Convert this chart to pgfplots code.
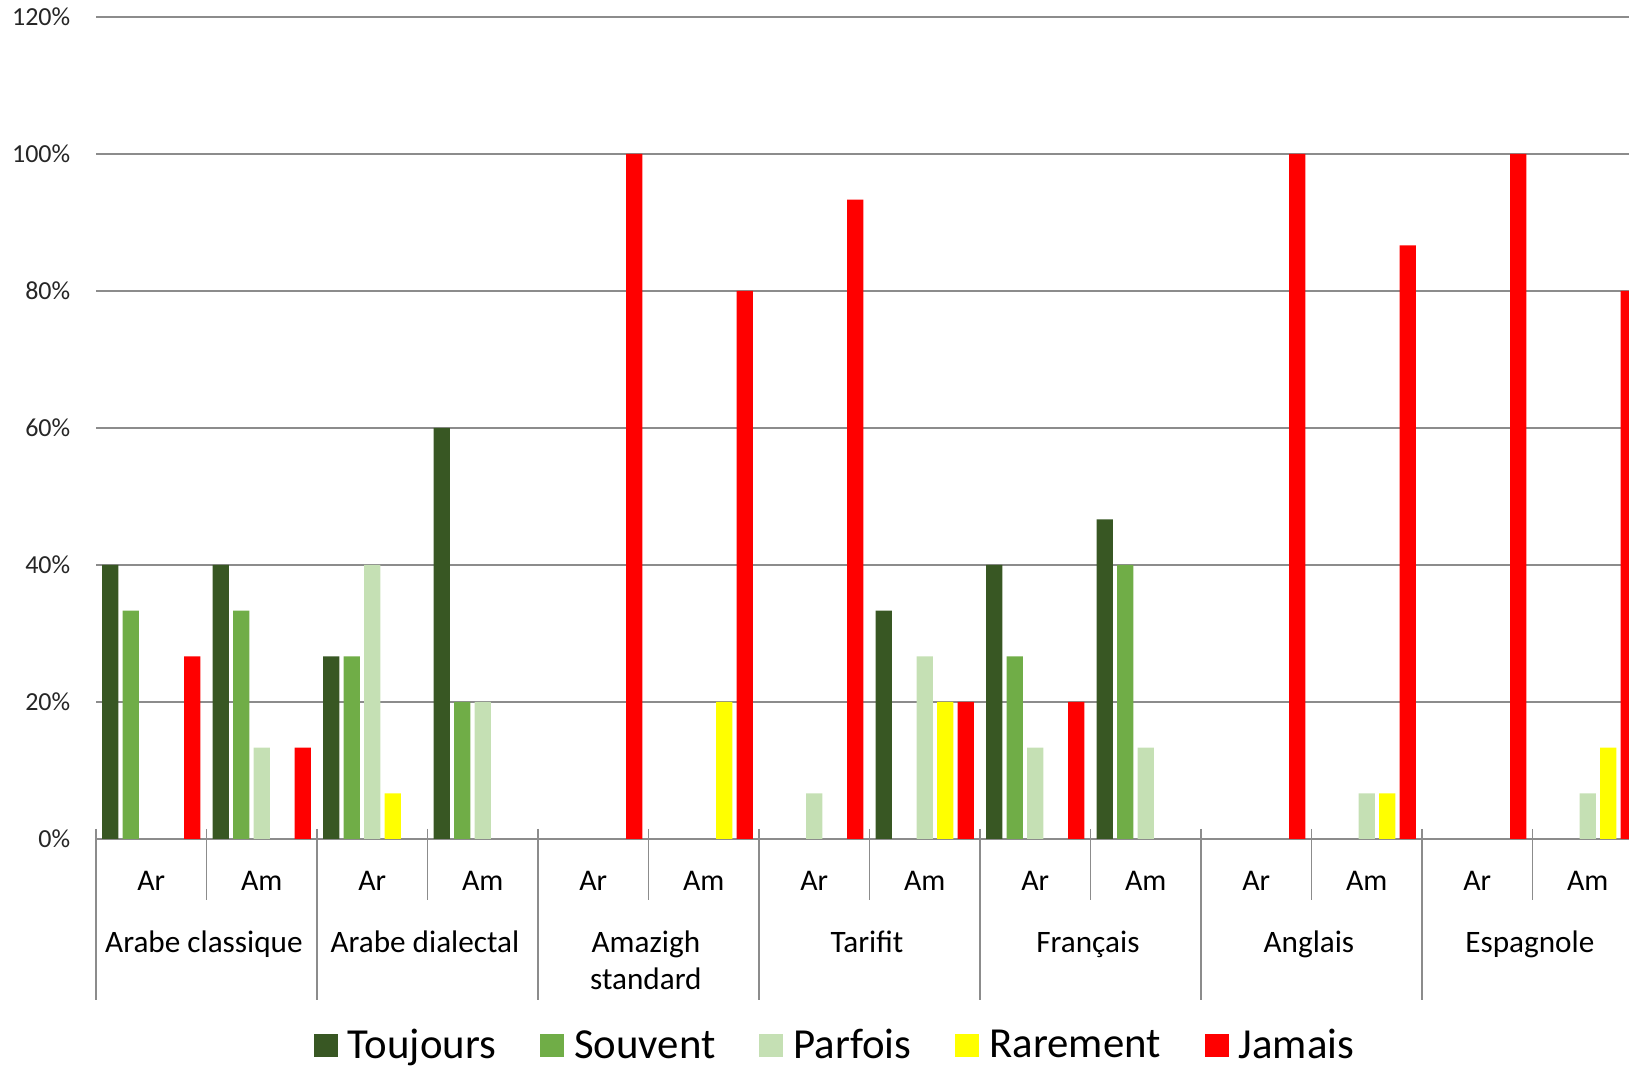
\documentclass[border=0pt]{standalone}
\usepackage{pgfplots}
\pgfplotsset{compat=1.18}
\usepackage{fontspec}
\setmainfont{Carlito}
\definecolor{cT}{RGB}{56,87,35}
\definecolor{cS}{RGB}{112,173,71}
\definecolor{cP}{RGB}{197,224,180}
\definecolor{cR}{RGB}{255,255,0}
\definecolor{cJ}{RGB}{255,0,0}
\definecolor{gridg}{RGB}{140,140,140}
\begin{document}
\begin{tikzpicture}
\begin{axis}[
  name=ax, at={(48pt,114.5pt)}, anchor=south west,
  scale only axis, width=773.5pt, height=411pt,
  xmin=-0.5, xmax=13.5, ymin=0, ymax=120,
  ybar=2.1pt, bar width=8.15pt,
  axis line style={draw=none},
  xtick=\empty,
  ytick={0,20,40,60,80,100,120},
  yticklabels={0\%,20\%,40\%,60\%,80\%,100\%,120\%},
  ytick style={draw=none},
  yticklabel style={anchor=east, inner sep=0pt, xshift=-12.7pt, font=\fontsize{13}{15}\selectfont, text=black!85},
  ymajorgrids, major grid style={gridg, line width=0.65pt},
  clip=false,
  legend columns=5,
  legend style={draw=none, at={(0.4783,-0.2515)}, anchor=center,
    font=\fontsize{21.4}{25}\selectfont,
    /tikz/every odd column/.append style={column sep=3pt},
    /tikz/every even column/.append style={column sep=20pt}},
  legend image code/.code={\fill[#1] (0pt,-5.75pt) rectangle (12pt,5.75pt);},
  every axis plot/.append style={draw=none},
]
\addplot[fill=cT] coordinates {(0,40) (1,40) (2,26.67) (3,60) (7,33.33) (8,40) (9,46.67)};
\addlegendentry{Toujours}
\addplot[fill=cS] coordinates {(0,33.33) (1,33.33) (2,26.67) (3,20) (8,26.67) (9,40)};
\addlegendentry{Souvent}
\addplot[fill=cP] coordinates {(1,13.33) (2,40) (3,20) (6,6.67) (7,26.67) (8,13.33) (9,13.33) (11,6.67) (13,6.67)};
\addlegendentry{Parfois}
\addplot[fill=cR] coordinates {(2,6.67) (5,20) (7,20) (11,6.67) (13,13.33)};
\addlegendentry{Rarement}
\addplot[fill=cJ] coordinates {(0,26.67) (1,13.33) (4,100) (5,80) (6,93.33) (7,20) (8,20) (10,100) (11,86.67) (12,100) (13,80)};
\addlegendentry{Jamais}
\end{axis}
\foreach \i in {0,2,...,14} {
  \draw[gridg, line width=0.65pt] ({48pt+\i*55.25pt},119.5pt) -- ({48pt+\i*55.25pt},34pt);
}
\foreach \i in {1,3,...,13} {
  \draw[gridg, line width=0.65pt] ({48pt+\i*55.25pt},119.5pt) -- ({48pt+\i*55.25pt},84pt);
}
\foreach \j in {0,2,...,12} {
  \node[font=\fontsize{15}{18}\selectfont, anchor=base] at ({48pt+(\j+0.5)*55.25pt},88.5pt) {Ar};
  \node[font=\fontsize{15}{18}\selectfont, anchor=base] at ({48pt+(\j+1.5)*55.25pt},88.5pt) {Am};
}
\foreach \k/\name in {0/Arabe classique,1/Arabe dialectal,2/Amazigh,3/Tarifit,4/Français,5/Anglais,6/Espagnole} {
  \node[font=\fontsize{15.6}{18}\selectfont, anchor=base] at ({46.7pt+(2*\k+1)*55.25pt},57.6pt) {\name};
}
\node[font=\fontsize{15.6}{18}\selectfont, anchor=base] at ({46.7pt+5*55.25pt},39.2pt) {standard};
\pgfresetboundingbox
\path[use as bounding box] (0,0) rectangle (814.5pt,534pt);
\end{tikzpicture}
\end{document}
